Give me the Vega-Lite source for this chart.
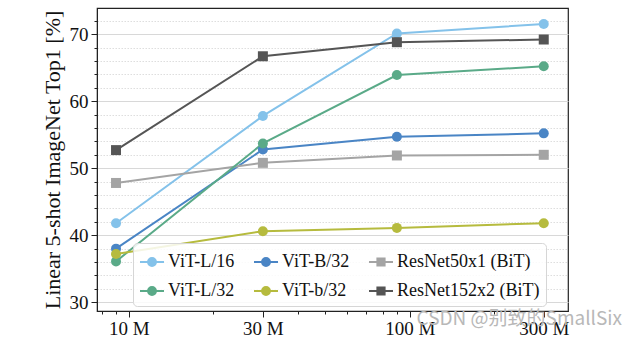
{
  "$schema": "https://vega.github.io/schema/vega-lite/v6.json",
  "autosize": {"type": "none"},
  "padding": {"left": 97, "top": 8, "right": 58, "bottom": 34},
  "width": 471,
  "height": 303,
  "background": "white",
  "title": {"text": "CSDN @别致的SmallSix", "orient": "bottom", "anchor": "end", "frame": "group", "offset": -28, "dx": 54, "color": "#b8b8b8", "font": "Noto Sans CJK SC", "fontSize": 19, "fontWeight": "normal"},
  "config": {
    "font": "Liberation Serif",
    "view": {"stroke": "#222222", "strokeWidth": 1.2},
    "axis": {"labelFont": "Liberation Serif", "titleFont": "Liberation Serif", "labelColor": "#111111", "titleColor": "#111111", "domainColor": "#222222", "tickColor": "#222222", "labelFontSize": 19, "titleFontSize": 22, "titleFontWeight": "normal"}
  },
  "data": {
    "values": [
      {"model": "ViT-L/16", "marker": "circle", "n": 9, "acc": 41.8},
      {"model": "ViT-L/16", "marker": "circle", "n": 30, "acc": 57.8},
      {"model": "ViT-L/16", "marker": "circle", "n": 90, "acc": 70.1},
      {"model": "ViT-L/16", "marker": "circle", "n": 300, "acc": 71.5},
      {"model": "ViT-B/32", "marker": "circle", "n": 9, "acc": 38.0},
      {"model": "ViT-B/32", "marker": "circle", "n": 30, "acc": 52.8},
      {"model": "ViT-B/32", "marker": "circle", "n": 90, "acc": 54.7},
      {"model": "ViT-B/32", "marker": "circle", "n": 300, "acc": 55.2},
      {"model": "ResNet50x1 (BiT)", "marker": "square", "n": 9, "acc": 47.8},
      {"model": "ResNet50x1 (BiT)", "marker": "square", "n": 30, "acc": 50.8},
      {"model": "ResNet50x1 (BiT)", "marker": "square", "n": 90, "acc": 51.9},
      {"model": "ResNet50x1 (BiT)", "marker": "square", "n": 300, "acc": 52.0},
      {"model": "ViT-L/32", "marker": "circle", "n": 9, "acc": 36.1},
      {"model": "ViT-L/32", "marker": "circle", "n": 30, "acc": 53.7},
      {"model": "ViT-L/32", "marker": "circle", "n": 90, "acc": 63.9},
      {"model": "ViT-L/32", "marker": "circle", "n": 300, "acc": 65.2},
      {"model": "ViT-b/32", "marker": "circle", "n": 9, "acc": 37.2},
      {"model": "ViT-b/32", "marker": "circle", "n": 30, "acc": 40.6},
      {"model": "ViT-b/32", "marker": "circle", "n": 90, "acc": 41.1},
      {"model": "ViT-b/32", "marker": "circle", "n": 300, "acc": 41.8},
      {"model": "ResNet152x2 (BiT)", "marker": "square", "n": 9, "acc": 52.7},
      {"model": "ResNet152x2 (BiT)", "marker": "square", "n": 30, "acc": 66.7},
      {"model": "ResNet152x2 (BiT)", "marker": "square", "n": 90, "acc": 68.8},
      {"model": "ResNet152x2 (BiT)", "marker": "square", "n": 300, "acc": 69.2}
    ]
  },
  "encoding": {
    "x": {
      "field": "n", "type": "quantitative", "title": null,
      "scale": {"type": "log", "domain": [7.7, 366], "nice": false},
      "axis": {
        "values": [8, 9, 10, 20, 30, 40, 50, 60, 70, 80, 90, 100, 200, 300],
        "labelExpr": "(datum.value == 10 || datum.value == 30 || datum.value == 100 || datum.value == 300) ? datum.value + ' M' : ''",
        "tickSize": {"condition": {"test": "datum.value == 10 || datum.value == 30 || datum.value == 100 || datum.value == 300", "value": 6}, "value": 3},
        "grid": false,
        "labelPadding": 2,
        "labelFlush": false,
        "labelOverlap": false
      }
    },
    "y": {
      "field": "acc", "type": "quantitative",
      "title": "Linear 5-shot ImageNet Top1 [%]",
      "scale": {"domain": [28.7, 73.9], "nice": false, "zero": false},
      "axis": {
        "values": [30, 32, 34, 36, 38, 40, 42, 44, 46, 48, 50, 52, 54, 56, 58, 60, 62, 64, 66, 68, 70, 72],
        "labelExpr": "datum.value % 10 == 0 ? datum.value : ''",
        "tickSize": {"condition": {"test": "datum.value % 10 == 0", "value": 6}, "value": 3},
        "gridDash": {"condition": {"test": "datum.value % 10 == 0", "value": []}, "value": [1.5, 1.5]},
        "gridColor": {"condition": {"test": "datum.value % 10 == 0", "value": "#d8d8d8"}, "value": "#dedede"},
        "gridWidth": 1.2,
        "labelOverlap": false,
        "labelPadding": 3,
        "titlePadding": 5
      }
    },
    "color": {
      "field": "model", "type": "nominal",
      "scale": {
        "domain": ["ViT-L/16", "ViT-B/32", "ResNet50x1 (BiT)", "ViT-L/32", "ViT-b/32", "ResNet152x2 (BiT)"],
        "range": ["#84c2ea", "#4a85c5", "#a4a4a4", "#5aaa88", "#b6bb3e", "#555555"]
      },
      "legend": {
        "title": null,
        "orient": "none",
        "legendX": 36,
        "legendY": 235,
        "columns": 3,
        "direction": "horizontal",
        "fillColor": "rgba(255,255,255,0.85)",
        "strokeColor": "#d6d6d6",
        "cornerRadius": 4,
        "padding": 6,
        "rowPadding": 7,
        "columnPadding": 15,
        "labelFont": "Liberation Serif",
        "labelFontSize": 18,
        "labelColor": "#111111",
        "labelOffset": 3,
        "symbolSize": 576,
        "symbolStrokeWidth": 2,
        "symbolOpacity": 1,
        "encode": {
          "symbols": {
            "update": {
              "shape": {"signal": "indexof(datum.value, 'ResNet') >= 0 ? 'M-1,0H-0.3M0.3,0H1M-0.3,-0.3H0.3V0.3H-0.3Z' : 'M-1,0H-0.33M0.33,0H1M0.33,0A0.33,0.33 0 1 1 -0.33,0A0.33,0.33 0 1 1 0.33,0Z'"},
              "fill": {"scale": "color", "field": "value"},
              "stroke": {"scale": "color", "field": "value"},
              "strokeWidth": {"value": 2},
              "opacity": {"value": 1}
            }
          }
        }
      }
    }
  },
  "layer": [
    {"mark": {"type": "line", "strokeWidth": 2}, "encoding": {"detail": {"field": "model"}}},
    {
      "mark": {"type": "point", "filled": true, "opacity": 1},
      "encoding": {
        "shape": {"field": "marker", "type": "nominal", "scale": {"domain": ["circle", "square"], "range": ["circle", "square"]}, "legend": null},
        "size": {"condition": {"test": "datum.marker == 'square'", "value": 100}, "value": 100}
      }
    }
  ]
}
